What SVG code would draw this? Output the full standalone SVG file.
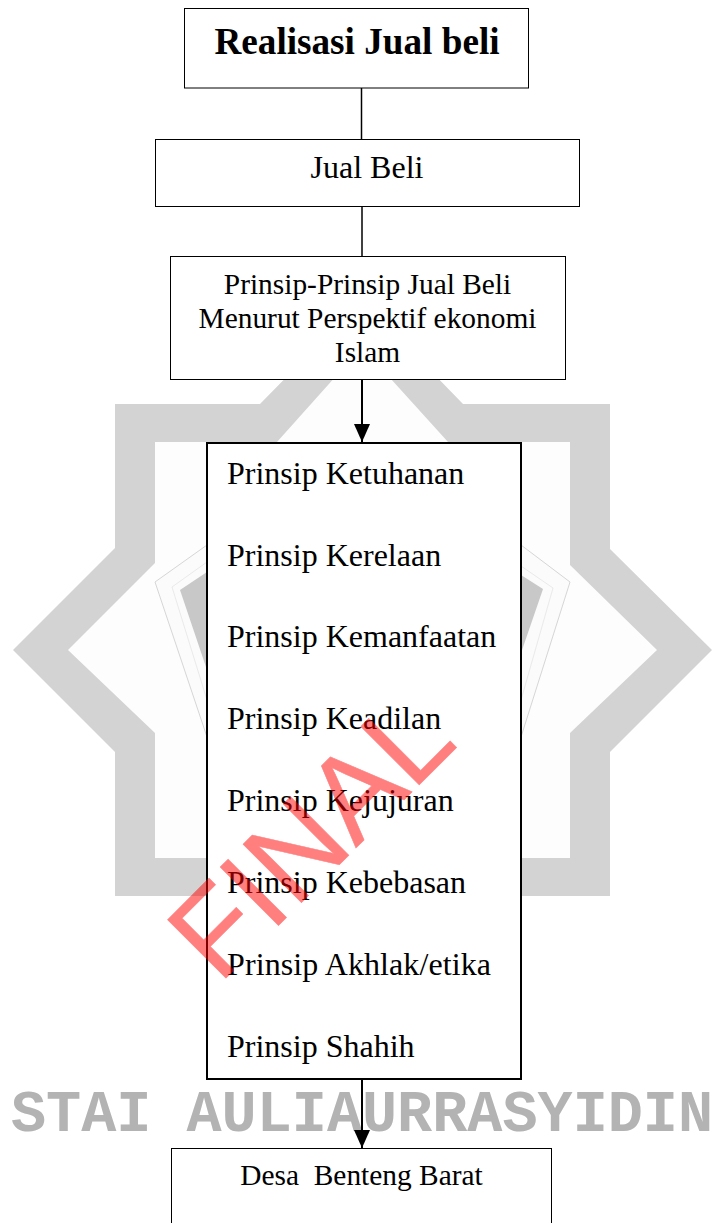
<svg xmlns="http://www.w3.org/2000/svg" width="715" height="1223" viewBox="0 0 715 1223">
<style>
.box{fill:#fff;stroke:#000;stroke-width:1}
.t{font-family:"Liberation Serif","Times New Roman",serif;fill:#000}
.c{stroke:#000;fill:none}
.item{font-size:32px}
.mid{text-anchor:middle;font-size:29.4px}
</style>
<defs><marker id="ah" markerUnits="userSpaceOnUse" markerWidth="18" markerHeight="16" refX="18" refY="8" orient="auto" viewBox="0 0 18 16"><path d="M0 0L18 8L0 16Z" fill="#000"/></marker></defs>
<rect width="715" height="1223" fill="#fff"/>
<g id="watermark">
<path d="M362 300L463 404H610V549L712 650L610 752V896H463L362 998L260 896H115V752L13 650L115 548V404H260Z" fill="#d3d3d3"/>
<path d="M362 347L448 442H570V565L657 650L570 733V858H448L362 944L277 858H155V733L68 650L155 563V442H277Z" fill="#fdfdfd"/>
<path d="M155 582L207 545H521L570 582L521 737H207Z" fill="#fbfbfb" stroke="#d6d6d6"/>
<path d="M172 587L207 562M553 588L521 566M172 587L207 700M553 588L521 700" fill="none" stroke="#eaeaea"/>
<path d="M180 590L207 572V670Z" fill="#c8c8c8"/>
<path d="M543 589L521 575V653Z" fill="#c8c8c8"/>
<text x="362" y="1131" text-anchor="middle" font-family="'Liberation Mono','Courier New',monospace" font-weight="700" font-size="58.5" fill="#b3b3b3">STAI AULIAURRASYIDIN</text>
</g>
<g id="connectors">
<path class="c" stroke-width="1.5" d="M361.500 88V139"/>
<path class="c" stroke-width="1.5" d="M362 207V256"/>
<path class="c" stroke-width="2" d="M362 380V442" marker-end="url(#ah)"/>
<path class="c" stroke-width="2" d="M362 1079V1148" marker-end="url(#ah)"/>
</g>
<g id="node-realisasi"><rect class="box" x="184.500" y="8.500" width="344" height="79.500"/><text class="t" x="357" y="53.500" text-anchor="middle" font-size="37.200" font-weight="700">Realisasi Jual beli</text></g>
<g id="node-jualbeli"><rect class="box" x="155.500" y="139.500" width="424" height="67"/><text class="t mid" x="367" y="178" style="font-size:32px">Jual Beli</text></g>
<g id="node-prinsip"><rect class="box" x="170.500" y="256.500" width="395" height="123"/><text class="t mid" x="367.500" y="294">Prinsip-Prinsip Jual Beli</text><text class="t mid" x="367.500" y="328">Menurut Perspektif ekonomi</text><text class="t mid" x="367.500" y="362">Islam</text></g>
<g id="node-list"><rect x="207" y="443" width="314" height="636" fill="#fff" stroke="#000" stroke-width="2"/>
<text class="t item" x="227" y="484">Prinsip Ketuhanan</text>
<text class="t item" x="227" y="566">Prinsip Kerelaan</text>
<text class="t item" x="227" y="647">Prinsip Kemanfaatan</text>
<text class="t item" x="227" y="729">Prinsip Keadilan</text>
<text class="t item" x="227" y="811">Prinsip Kejujuran</text>
<text class="t item" x="227" y="893">Prinsip Kebebasan</text>
<text class="t item" x="227" y="975" textLength="264">Prinsip Akhlak/etika</text>
<text class="t item" x="227" y="1057">Prinsip Shahih</text></g>
<g id="node-desa"><rect class="box" x="171.500" y="1148.500" width="380" height="80"/><text class="t" x="361.500" y="1185" text-anchor="middle" font-size="29.4" xml:space="preserve">Desa  Benteng Barat</text></g>
<text id="stamp" transform="translate(219 985) rotate(-45)" font-family="'Liberation Sans',Arial,sans-serif" font-size="120" fill="#ff0000" stroke="#ff0000" stroke-width="0.6" opacity="0.5">FINAL</text>
</svg>
